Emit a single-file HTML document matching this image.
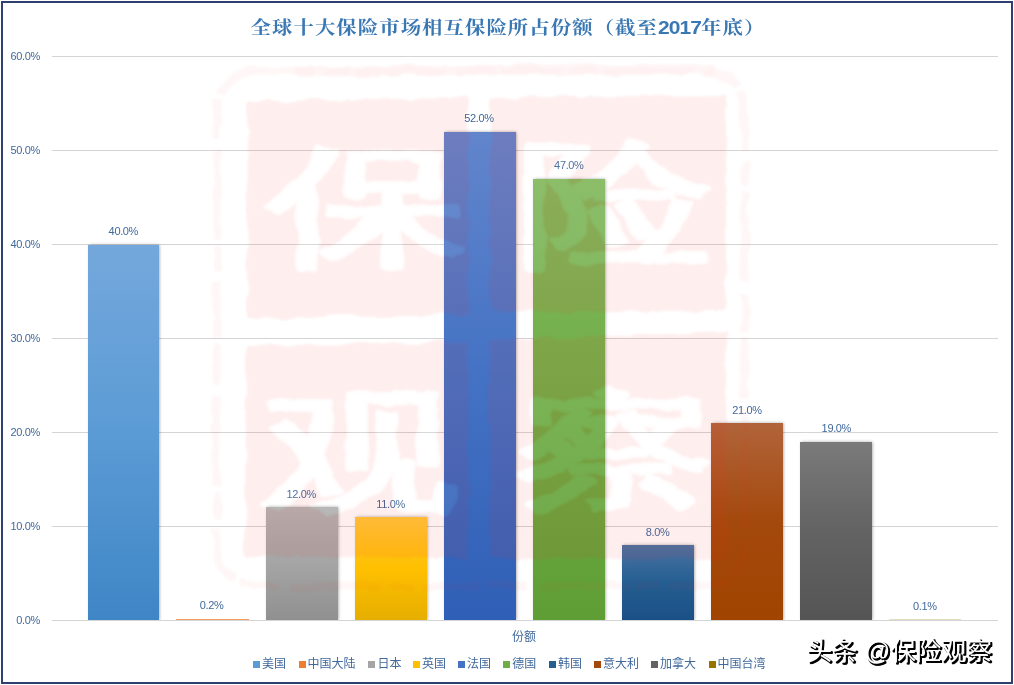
<!DOCTYPE html>
<html lang="zh-CN">
<head>
<meta charset="utf-8">
<title>全球十大保险市场相互保险所占份额（截至2017年底）</title>
<style>
html,body{margin:0;padding:0;background:#fff;}
body{width:1014px;height:685px;position:relative;overflow:hidden;font-family:"Liberation Sans","Noto Sans CJK SC",sans-serif;}
#frame{position:absolute;left:1px;top:1px;width:1008px;height:679px;border:2px solid #2d4070;background:#fff;}
.grid{position:absolute;left:51.5px;width:946.5px;height:1px;background:#d4d4d4;}
.ax{position:absolute;left:0;width:40px;text-align:right;font-size:11px;line-height:14px;height:14px;color:#41699b;letter-spacing:-0.35px;}
.bar{position:absolute;width:71.3px;box-shadow:0.6px 0 3px rgba(0,0,0,0.36);clip-path:inset(-5px -5px 0 -5px);}
.dl{position:absolute;width:72.7px;text-align:center;font-size:11px;line-height:14px;height:14px;color:#41699b;letter-spacing:-0.35px;}
#title{position:absolute;left:1px;top:13.4px;width:1014px;text-align:center;font-family:"Liberation Serif","Noto Serif CJK SC",serif;font-weight:bold;font-size:20.4px;letter-spacing:1.05px;line-height:30px;height:30px;color:#3a78b4;white-space:nowrap;transform:scaleY(0.9);transform-origin:50% 50%;}
#title b{font-family:"Liberation Sans","Noto Sans CJK SC",sans-serif;font-size:21px;letter-spacing:-0.9px;}
.lg{position:absolute;top:656.9px;height:14px;line-height:14px;font-size:12px;color:#41699b;white-space:nowrap;}
.lg i{position:absolute;left:0;top:4px;width:7px;height:7px;}
.lg span{position:absolute;left:9px;top:0;}
#cat{position:absolute;left:494px;width:60px;top:629.8px;text-align:center;font-size:12px;line-height:14px;color:#41699b;}
#wm{position:absolute;left:806.9px;top:633.8px;font-size:25.2px;line-height:34px;color:#fff;text-shadow:1px 1px 0 #000,2px 2px 0 #000,2px 1px 0 #000,1px 2px 0 #000;font-weight:400;letter-spacing:0.2px;white-space:nowrap;font-family:"Liberation Sans","Noto Sans CJK SC",sans-serif;}
#seal{position:absolute;left:0;top:0;width:1014px;height:685px;opacity:0.072;pointer-events:none;}
</style>
</head>
<body>
<div id="frame"></div>
<div class="grid" style="top:56px"></div>
<div class="ax" style="top:49px">60.0%</div>
<div class="grid" style="top:150px"></div>
<div class="ax" style="top:143px">50.0%</div>
<div class="grid" style="top:244px"></div>
<div class="ax" style="top:237px">40.0%</div>
<div class="grid" style="top:338px"></div>
<div class="ax" style="top:331px">30.0%</div>
<div class="grid" style="top:432px"></div>
<div class="ax" style="top:425px">20.0%</div>
<div class="grid" style="top:526px"></div>
<div class="ax" style="top:519px">10.0%</div>
<div class="grid" style="top:620px"></div>
<div class="ax" style="top:613px">0.0%</div>
<div id="title">全球十大保险市场相互保险所占份额（截至<b>2017</b>年底）</div>
<div class="bar" style="left:88.0px;width:71.3px;top:244.6px;height:375.4px;background:linear-gradient(180deg,#74a8dc 0%,#5b9bd5 50%,#3f86c6 100%)"></div>
<div class="dl" style="left:87.0px;top:223.6px">40.0%</div>
<div class="bar" style="left:176.4px;width:72.4px;top:618.9px;height:1.1px;background:linear-gradient(180deg,#f0904e 0%,#ed7d31 50%,#e06a1a 100%);box-shadow:none;opacity:0.75"></div>
<div class="dl" style="left:175.2px;top:598.1px">0.2%</div>
<div class="bar" style="left:266.0px;width:71.9px;top:507.4px;height:112.6px;background:linear-gradient(180deg,#b3b3b3 0%,#a5a5a5 50%,#909090 100%)"></div>
<div class="dl" style="left:264.8px;top:487.4px">12.0%</div>
<div class="bar" style="left:355.0px;width:71.9px;top:516.8px;height:103.2px;background:linear-gradient(180deg,#ffc83a 0%,#ffc000 50%,#e6ae00 100%)"></div>
<div class="dl" style="left:354.2px;top:496.8px">11.0%</div>
<div class="bar" style="left:444.0px;width:71.9px;top:132.0px;height:488.0px;background:linear-gradient(180deg,#6285cc 0%,#4472c4 50%,#2f5fb6 100%)"></div>
<div class="dl" style="left:442.7px;top:111.0px">52.0%</div>
<div class="bar" style="left:533.0px;width:71.9px;top:178.9px;height:441.1px;background:linear-gradient(180deg,#83b95f 0%,#70ad47 50%,#5f9e35 100%)"></div>
<div class="dl" style="left:532.5px;top:157.9px">47.0%</div>
<div class="bar" style="left:622.0px;width:71.9px;top:544.9px;height:75.1px;background:linear-gradient(180deg,#4a73a3 0%,#255e91 50%,#1a5086 100%)"></div>
<div class="dl" style="left:621.3px;top:524.9px">8.0%</div>
<div class="bar" style="left:711.0px;width:71.9px;top:422.9px;height:197.1px;background:linear-gradient(180deg,#b1643a 0%,#a4490d 50%,#a04400 100%)"></div>
<div class="dl" style="left:710.7px;top:402.5px">21.0%</div>
<div class="bar" style="left:800.0px;width:71.9px;top:441.7px;height:178.3px;background:linear-gradient(180deg,#7a7a7a 0%,#636363 50%,#555555 100%)"></div>
<div class="dl" style="left:800.0px;top:420.7px">19.0%</div>
<div class="bar" style="left:889.0px;width:71.9px;top:619.4px;height:0.6px;background:linear-gradient(180deg,#a98a2d 0%,#997300 50%,#8a6700 100%);box-shadow:none;opacity:0.25"></div>
<div class="dl" style="left:888.5px;top:599.1px">0.1%</div>
<div id="cat">份额</div>
<div class="lg" style="left:253px"><i style="background:#5b9bd5"></i><span>美国</span></div>
<div class="lg" style="left:298.5px"><i style="background:#ed7d31"></i><span>中国大陆</span></div>
<div class="lg" style="left:368.4px"><i style="background:#a5a5a5"></i><span>日本</span></div>
<div class="lg" style="left:413px"><i style="background:#ffc000"></i><span>英国</span></div>
<div class="lg" style="left:458px"><i style="background:#4472c4"></i><span>法国</span></div>
<div class="lg" style="left:503.3px"><i style="background:#70ad47"></i><span>德国</span></div>
<div class="lg" style="left:549px"><i style="background:#255e91"></i><span>韩国</span></div>
<div class="lg" style="left:594px"><i style="background:#a4490d"></i><span>意大利</span></div>
<div class="lg" style="left:651px"><i style="background:#636363"></i><span>加拿大</span></div>
<div class="lg" style="left:708.5px"><i style="background:#997300"></i><span>中国台湾</span></div>
<svg id="seal" viewBox="0 0 1014 685" width="1014" height="685">
<defs>
<filter id="rough" x="-5%" y="-5%" width="110%" height="110%">
<feTurbulence type="fractalNoise" baseFrequency="0.04" numOctaves="3" seed="7" result="n"/>
<feDisplacementMap in="SourceGraphic" in2="n" scale="9" xChannelSelector="R" yChannelSelector="G" result="d"/>
<feGaussianBlur in="d" stdDeviation="0.8"/>
</filter>
</defs>
<g filter="url(#rough)">
<rect x="217" y="71" width="528" height="515" rx="38" ry="38" fill="none" stroke="#ff2020" stroke-width="8" stroke-opacity="0.5" stroke-dasharray="60 9 25 6 90 12 40 5"/>
<path d="M300 72 L470 70 L712 69" fill="none" stroke="#ff2020" stroke-width="10" stroke-opacity="0.6" stroke-linecap="round"/>
<path d="M248 101 L468 98 L468 314 L247 318 Z M490 98 L726 95 L726 310 L490 313 Z M246 346 L468 342 L468 557 L245 556 Z M490 340 L726 332 L727 560 L490 558 Z" fill="#ff2020"/>
<g fill="#ffffff" stroke="#ffffff" stroke-width="4.5" stroke-linejoin="round" stroke-linecap="round" font-family="'Liberation Sans','WenQuanYi Zen Hei','Noto Sans CJK SC',sans-serif" font-weight="400">
<text transform="translate(268.1,250.9) scale(1.542,1)" font-size="129.5">保</text>
<text transform="translate(516.2,250.3) scale(1.479,1)" font-size="134.2">险</text>
<text transform="translate(261.2,497.2) scale(1.526,1)" font-size="129.5">观</text>
<text transform="translate(515.1,494.7) scale(1.564,1)" font-size="128.4">察</text>
</g>
</g>
</svg>
<div id="wm">头条 @保险观察</div>
</body>
</html>
